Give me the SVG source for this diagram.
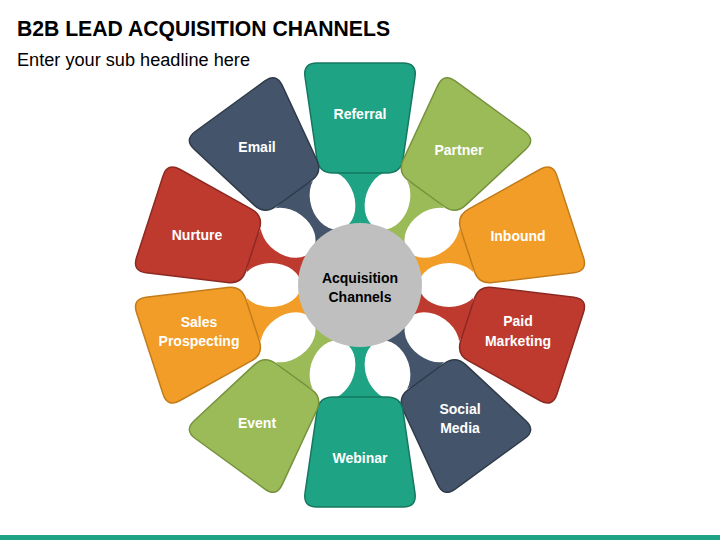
<svg xmlns="http://www.w3.org/2000/svg" xmlns:xlink="http://www.w3.org/1999/xlink" width="720" height="540" viewBox="0 0 720 540">
<style>
.t{font-family:"Liberation Sans",Arial,sans-serif;font-weight:bold;font-size:14px;fill:#fff;text-anchor:middle}
.c{fill:#000}
.teal{fill:#1fa385;stroke:#15785f}
.green{fill:#9bbb59;stroke:#76923c}
.orange{fill:#f29d27;stroke:#c27c1c}
.red{fill:#be3a2f;stroke:#8c2a22}
.blue{fill:#44546a;stroke:#2f3b4b}
.hd{stroke-width:1.5}
.st{stroke:none}
</style>
<defs>
<path id="head" d="M -43 -222 L 43 -222 Q 57 -222 54.99 -208.15 L 43.01 -125.85 Q 41 -112 27 -112 L -27 -112 Q -41 -112 -43.01 -125.85 L -54.99 -208.15 Q -57 -222 -43 -222 Z"/>
<path id="head2" d="M -43 -221 L 43 -221 Q 57 -221 54.38 -207.25 L 38.63 -126.75 Q 36 -113 22 -113 L -22 -113 Q -36 -113 -38.63 -126.75 L -54.38 -207.25 Q -57 -221 -43 -221 Z"/>
<path id="stem" d="M 0 0 L -35.23 -108.42 A 114 114 0 0 1 35.23 -108.42 Z"/>
<ellipse id="hole" cx="89" cy="0" rx="30" ry="22" fill="#fff"/>
</defs>
<rect width="720" height="540" fill="#fff"/>
<text x="17" y="36" font-family="'Liberation Sans',Arial,sans-serif" font-weight="bold" font-size="22" textLength="373" lengthAdjust="spacingAndGlyphs" fill="#000">B2B LEAD ACQUISITION CHANNELS</text>
<text x="17" y="66" font-family="'Liberation Sans',Arial,sans-serif" font-size="18" textLength="233" lengthAdjust="spacingAndGlyphs" fill="#000">Enter your sub headline here</text>
<g id="connectors" transform="translate(360 285)">
<use href="#stem" class="teal st" transform="rotate(0)"/>
<use href="#stem" class="green st" transform="rotate(36)"/>
<use href="#stem" class="orange st" transform="rotate(72)"/>
<use href="#stem" class="red st" transform="rotate(108)"/>
<use href="#stem" class="blue st" transform="rotate(144)"/>
<use href="#stem" class="teal st" transform="rotate(180)"/>
<use href="#stem" class="green st" transform="rotate(216)"/>
<use href="#stem" class="orange st" transform="rotate(252)"/>
<use href="#stem" class="red st" transform="rotate(288)"/>
<use href="#stem" class="blue st" transform="rotate(324)"/>
<use href="#hole" transform="rotate(-72)"/>
<use href="#hole" transform="rotate(-36)"/>
<use href="#hole" transform="rotate(0)"/>
<use href="#hole" transform="rotate(36)"/>
<use href="#hole" transform="rotate(72)"/>
<use href="#hole" transform="rotate(108)"/>
<use href="#hole" transform="rotate(144)"/>
<use href="#hole" transform="rotate(180)"/>
<use href="#hole" transform="rotate(216)"/>
<use href="#hole" transform="rotate(252)"/>
</g>
<g id="referral"><use href="#head" class="teal hd" transform="translate(360 285) rotate(0)"/><text class="t" x="360" y="119">Referral</text></g>
<g id="partner"><use href="#head2" class="green hd" transform="translate(360 285) rotate(36)"/><text class="t" x="459" y="155">Partner</text></g>
<g id="inbound"><use href="#head2" class="orange hd" transform="translate(360 285) rotate(72)"/><text class="t" x="518" y="241">Inbound</text></g>
<g id="paid-marketing"><use href="#head2" class="red hd" transform="translate(360 285) rotate(108)"/><text class="t" x="518" y="326">Paid</text><text class="t" x="518" y="346">Marketing</text></g>
<g id="social-media"><use href="#head2" class="blue hd" transform="translate(360 285) rotate(144)"/><text class="t" x="460" y="414">Social</text><text class="t" x="460" y="433">Media</text></g>
<g id="webinar"><use href="#head" class="teal hd" transform="translate(360 285) rotate(180)"/><text class="t" x="360" y="463">Webinar</text></g>
<g id="event"><use href="#head2" class="green hd" transform="translate(360 285) rotate(216)"/><text class="t" x="257" y="428">Event</text></g>
<g id="sales-prospecting"><use href="#head2" class="orange hd" transform="translate(360 285) rotate(252)"/><text class="t" x="199" y="327">Sales</text><text class="t" x="199" y="346">Prospecting</text></g>
<g id="nurture"><use href="#head2" class="red hd" transform="translate(360 285) rotate(288)"/><text class="t" x="197" y="240">Nurture</text></g>
<g id="email"><use href="#head2" class="blue hd" transform="translate(360 285) rotate(324)"/><text class="t" x="257" y="152">Email</text></g>
<g id="acquisition-channels"><circle cx="360" cy="285" r="62" fill="#bfbfbf"/><text class="t c" x="360" y="283">Acquisition</text><text class="t c" x="360" y="302">Channels</text></g>
<rect x="0" y="535" width="720" height="5" fill="#1fa385"/>
</svg>
